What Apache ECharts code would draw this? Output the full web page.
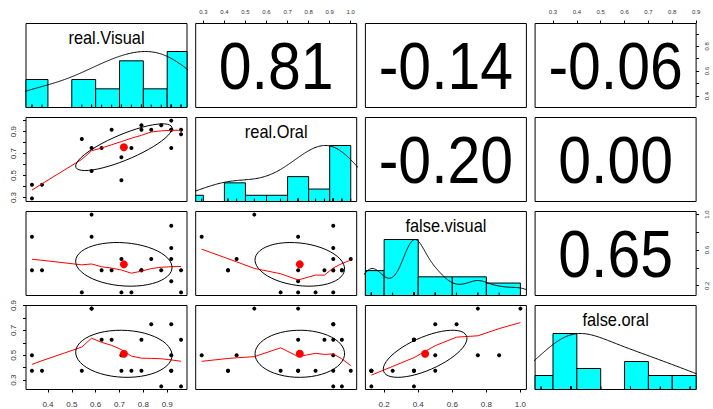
<!DOCTYPE html>
<html>
<head>
<meta charset="utf-8">
<script src="https://cdn.jsdelivr.net/npm/echarts@6/dist/echarts.min.js"></script>
<style>
  html, body { margin: 0; padding: 0; background: #fff; }
  #chart { width: 713px; height: 409px; }
</style>
</head>
<body>
<div id="chart"></div>
<script>
// Scores of 21 subjects on four recognition measures
const varNames = ['real.Visual', 'real.Oral', 'false.visual', 'false.oral'];
const realVisual  = [0.333, 0.333, 0.375, 0.542, 0.583, 0.583, 0.625, 0.667, 0.708, 0.708, 0.750, 0.792, 0.792, 0.833, 0.875, 0.917, 0.917, 0.917, 0.917, 0.958, 0.958];
const realOral    = [0.292, 0.417, 0.417, 0.833, 0.542, 0.750, 0.750, 0.917, 0.458, 0.667, 0.750, 0.958, 0.917, 0.917, 0.958, 0.917, 0.917, 1.000, 0.750, 0.875, 0.917];
const falseVisual = [0.750, 0.375, 0.375, 0.125, 1.000, 0.750, 0.375, 0.375, 0.500, 0.125, 0.125, 0.375, 0.375, 0.500, 0.375, 0.875, 0.625, 0.500, 0.250, 0.375, 0.125];
const falseOral   = [0.500, 0.375, 0.375, 0.375, 0.875, 0.875, 0.625, 0.625, 0.500, 0.375, 0.375, 0.625, 0.375, 0.750, 0.250, 0.500, 0.750, 0.375, 0.375, 0.625, 0.250];

// Pearson correlations for the upper panels, row by row
const corrLabels = ['0.81', '-0.14', '-0.06', '-0.20', '0.00', '0.65'];

// Histogram break points for each variable
const histBreaks = [
  [0.3, 0.4, 0.5, 0.6, 0.7, 0.8, 0.9, 1.0],
  [0.2, 0.3, 0.4, 0.5, 0.6, 0.7, 0.8, 0.9, 1.0],
  [0.0, 0.2, 0.4, 0.6, 0.8, 1.0],
  [0.2, 0.3, 0.4, 0.5, 0.6, 0.7, 0.8, 0.9]
];

// Axis ticks per variable, and the thinned label sets used on the vertical axes
const tickValues = [
  [0.4, 0.5, 0.6, 0.7, 0.8, 0.9],
  [0.3, 0.4, 0.5, 0.6, 0.7, 0.8, 0.9, 1.0],
  [0.2, 0.4, 0.6, 0.8, 1.0],
  [0.3, 0.4, 0.5, 0.6, 0.7, 0.8, 0.9]
];
const sideLabelValues = [
  [0.4, 0.6, 0.8],
  [0.3, 0.5, 0.7, 0.9],
  [0.2, 0.6, 1.0],
  [0.3, 0.5, 0.7, 0.9]
];

const FONT = "'Liberation Sans', Arial, Helvetica, sans-serif";
const vars = [realVisual, realOral, falseVisual, falseOral];

// ---------- statistics ----------
function mean(v) { return v.reduce((a, b) => a + b, 0) / v.length; }
function sd(v) { const m = mean(v); return Math.sqrt(v.reduce((a, b) => a + (b - m) * (b - m), 0) / (v.length - 1)); }
function cor(a, b) {
  const ma = mean(a), mb = mean(b);
  let sab = 0, saa = 0, sbb = 0;
  for (let i = 0; i < a.length; i++) { sab += (a[i] - ma) * (b[i] - mb); saa += (a[i] - ma) ** 2; sbb += (b[i] - mb) ** 2; }
  return sab / Math.sqrt(saa * sbb);
}
function extent(v) {
  const mn = Math.min(...v), mx = Math.max(...v), pad = 0.04 * (mx - mn);
  return [mn - pad, mx + pad];
}
function quantile7(sorted, p) {
  const h = (sorted.length - 1) * p, lo = Math.floor(h);
  const hi = Math.min(lo + 1, sorted.length - 1);
  return sorted[lo] + (h - lo) * (sorted[hi] - sorted[lo]);
}
// Gaussian kernel density, bandwidth "nrd" with adjust = 1.2, scaled to a peak of 1
function density(v) {
  const s = [...v].sort((a, b) => a - b);
  const iqr = (quantile7(s, 0.75) - quantile7(s, 0.25)) / 1.34;
  const bw = 1.2 * 1.06 * Math.min(sd(v), iqr) * Math.pow(v.length, -0.2);
  const from = s[0] - 3 * bw, to = s[s.length - 1] + 3 * bw;
  const pts = [];
  let peak = 0;
  for (let k = 0; k < 512; k++) {
    const x = from + (to - from) * k / 511;
    let d = 0;
    for (const xi of v) d += Math.exp(-0.5 * ((x - xi) / bw) ** 2);
    pts.push([x, d]);
    if (d > peak) peak = d;
  }
  return pts.map(p => [p[0], p[1] / peak]);
}
function histogram(v, breaks) {
  const counts = new Array(breaks.length - 1).fill(0);
  for (const x of v) {
    for (let b = 0; b < breaks.length - 1; b++) {
      const lo = breaks[b], hi = breaks[b + 1];
      if ((x > lo + 1e-9 || (b === 0 && x >= lo - 1e-9)) && x <= hi + 1e-9) { counts[b]++; break; }
    }
  }
  const mx = Math.max(...counts);
  return counts.map((c, b) => [breaks[b], breaks[b + 1], c / mx]);
}
// Locally weighted scatterplot smoother (Cleveland's LOWESS, f = 2/3, 3 robustness steps)
function lowess(xIn, yIn, f = 2 / 3, nsteps = 3) {
  const n = xIn.length;
  const ord = xIn.map((_, i) => i).sort((a, b) => xIn[a] - xIn[b]);
  const X = [0], Y = [0];
  ord.forEach(i => { X.push(xIn[i]); Y.push(yIn[i]); });
  const YS = new Array(n + 1).fill(0), RW = new Array(n + 1).fill(0), RES = new Array(n + 1).fill(0), W = new Array(n + 1).fill(0);
  const delta = 0.01 * (X[n] - X[1]);
  const ns = Math.max(2, Math.min(n, Math.floor(f * n + 1e-7)));
  function lowest(xs, nleft, nright, userw) {
    const range = X[n] - X[1];
    const h = Math.max(xs - X[nleft], X[nright] - xs);
    const h9 = 0.999 * h, h1 = 0.001 * h;
    let a = 0, j = nleft;
    while (j <= n) {
      W[j] = 0;
      const r = Math.abs(X[j] - xs);
      if (r <= h9) {
        W[j] = r <= h1 ? 1 : Math.pow(1 - Math.pow(r / h, 3), 3);
        if (userw) W[j] *= RW[j];
        a += W[j];
      } else if (X[j] > xs) break;
      j++;
    }
    const nrt = j - 1;
    if (a <= 0) return null;
    for (j = nleft; j <= nrt; j++) W[j] /= a;
    if (h > 0) {
      a = 0;
      for (j = nleft; j <= nrt; j++) a += W[j] * X[j];
      let b = xs - a, c = 0;
      for (j = nleft; j <= nrt; j++) c += W[j] * (X[j] - a) * (X[j] - a);
      if (Math.sqrt(c) > 0.001 * range) {
        b /= c;
        for (j = nleft; j <= nrt; j++) W[j] *= (b * (X[j] - a) + 1);
      }
    }
    let ys = 0;
    for (j = nleft; j <= nrt; j++) ys += W[j] * Y[j];
    return ys;
  }
  let iter = 1;
  while (iter <= nsteps + 1) {
    let nleft = 1, nright = ns, last = 0, i = 1;
    for (;;) {
      if (nright < n) {
        const d1 = X[i] - X[nleft], d2 = X[nright + 1] - X[i];
        if (d1 > d2) { nleft++; nright++; continue; }
      }
      const fit = lowest(X[i], nleft, nright, iter > 1);
      YS[i] = fit === null ? Y[i] : fit;
      if (last < i - 1) {
        const denom = X[i] - X[last];
        for (let j = last + 1; j < i; j++) {
          const alpha = (X[j] - X[last]) / denom;
          YS[j] = alpha * YS[i] + (1 - alpha) * YS[last];
        }
      }
      last = i;
      const cut = X[last] + delta;
      for (i = last + 1; i <= n; i++) {
        if (X[i] > cut) break;
        if (X[i] === X[last]) { YS[i] = YS[last]; last = i; }
      }
      i = Math.max(last + 1, i - 1);
      if (last >= n) break;
    }
    for (let k = 1; k <= n; k++) RES[k] = Y[k] - YS[k];
    let sc = 0;
    for (let k = 1; k <= n; k++) sc += Math.abs(RES[k]);
    sc /= n;
    if (iter > nsteps) break;
    const absr = RES.slice(1).map(Math.abs).sort((a, b) => a - b);
    const m1 = Math.floor(n / 2);
    const cmad = n % 2 === 0 ? 3 * (absr[m1] + absr[n - m1 - 1]) : 6 * absr[m1];
    if (cmad < 1e-7 * sc) break;
    const c9 = 0.999 * cmad, c1 = 0.001 * cmad;
    for (let k = 1; k <= n; k++) {
      const r = Math.abs(RES[k]);
      RW[k] = r <= c1 ? 1 : (r <= c9 ? (1 - (r / cmad) ** 2) ** 2 : 0);
    }
    iter++;
  }
  const out = [];
  for (let k = 1; k <= n; k++) out.push([X[k], YS[k]]);
  return out;
}
// One-standard-deviation correlation ellipse around the means
function corEllipse(x, y) {
  const xm = mean(x), ym = mean(y), xs = sd(x), ys = sd(y), r = cor(x, y);
  const theta = r !== 0 ? Math.sign(r) / Math.SQRT2 : 1 / Math.SQRT2;
  const s1 = Math.sqrt(1 + r), s2 = Math.sqrt(1 - r);
  const pts = [];
  const segments = 51;
  for (let k = 0; k <= segments; k++) {
    const a = k * 2 * Math.PI / segments;
    const ca = Math.cos(a), sa = Math.sin(a);
    const ex = ca * s1 * theta + sa * (-s2 * theta);
    const ey = ca * s1 * theta + sa * (s2 * theta);
    pts.push([ex * xs + xm, ey * ys + ym]);
  }
  return pts;
}

// ---------- layout ----------
const PANEL_LEFT = 26, PANEL_STEP_X = 169.7, PANEL_W = 161;
const PANEL_TOP = 23.5, PANEL_STEP_Y = 94, PANEL_H = 84;

function axisOn(ax, position, ticks, labels, fontSize, margin, rotate) {
  return Object.assign(ax, {
    show: true,
    position: position,
    axisLine: { show: false },
    splitLine: { show: false },
    axisTick: { show: true, inside: false, length: 3, customValues: ticks, lineStyle: { color: '#000', width: 1 } },
    axisLabel: {
      show: true, customValues: labels, formatter: v => Number(v).toFixed(1),
      fontSize: fontSize, margin: margin, rotate: rotate, color: '#333', fontFamily: FONT
    }
  });
}

// Centered panel text (variable names, correlations), slightly condensed horizontally
function panelText(g, pos, text, fontSize, scaleX) {
  return {
    type: 'custom', xAxisIndex: g, yAxisIndex: g, silent: true, animation: false,
    data: [pos], encode: { x: 0, y: 1 },
    renderItem: (params, api) => {
      const p = api.coord([api.value(0), api.value(1)]);
      return {
        type: 'text', x: p[0], y: p[1], scaleX: scaleX,
        style: { text: text, fontSize: fontSize, fontFamily: FONT, fill: '#000', align: 'center', verticalAlign: 'middle' }
      };
    }
  };
}

const grids = [], xAxes = [], yAxes = [], series = [];
let corrIdx = 0;
const corrText = {};
for (let r = 0; r < 4; r++) for (let c = r + 1; c < 4; c++) corrText[r + '_' + c] = corrLabels[corrIdx++];

for (let r = 0; r < 4; r++) {
  for (let c = 0; c < 4; c++) {
    const g = r * 4 + c;
    grids.push({
      left: PANEL_LEFT + c * PANEL_STEP_X, top: PANEL_TOP + r * PANEL_STEP_Y,
      width: PANEL_W, height: PANEL_H,
      show: true, borderColor: '#000', borderWidth: 1, backgroundColor: 'transparent',
      containLabel: false, outerBoundsMode: 'none'
    });
    const xr = extent(vars[c]);
    const yr = r === c ? [0, 1.5] : extent(vars[r]);
    let xAx = { type: 'value', gridIndex: g, min: xr[0], max: xr[1], show: false, splitLine: { show: false } };
    let yAx = { type: 'value', gridIndex: g, min: yr[0], max: yr[1], show: false, splitLine: { show: false } };
    if (r === 3 && (c === 0 || c === 2)) xAx = axisOn(xAx, 'bottom', tickValues[c], tickValues[c], 8, 11, 0);
    if (r === 0 && (c === 1 || c === 3)) xAx = axisOn(xAx, 'top', tickValues[c], tickValues[c], 6, 9, 0);
    if (c === 0 && (r === 1 || r === 3)) yAx = axisOn(yAx, 'left', tickValues[r], sideLabelValues[r], 8, 9, 90);
    if (c === 3 && (r === 0 || r === 2)) yAx = axisOn(yAx, 'right', tickValues[r], sideLabelValues[r], 6, 8, 90);
    xAxes.push(xAx);
    yAxes.push(yAx);

    const base = { xAxisIndex: g, yAxisIndex: g, silent: true, animation: false };
    if (r === c) {
      const v = vars[c];
      series.push(Object.assign({}, base, {
        type: 'custom',
        data: histogram(v, histBreaks[c]),
        encode: { x: [0, 1], y: 2 },
        renderItem: (params, api) => {
          const p0 = api.coord([api.value(0), api.value(2)]);
          const p1 = api.coord([api.value(1), 0]);
          const cs = params.coordSys;
          const shape = echarts.graphic.clipRectByRect(
            { x: p0[0], y: p0[1], width: p1[0] - p0[0], height: p1[1] - p0[1] },
            { x: cs.x, y: cs.y, width: cs.width, height: cs.height });
          if (!shape) return;
          return { type: 'rect', shape: shape, style: { fill: '#00FFFF', stroke: '#000', lineWidth: 1 } };
        }
      }));
      series.push(Object.assign({}, base, {
        type: 'line', data: density(v), symbol: 'none', showSymbol: false, clip: true,
        lineStyle: { color: '#000', width: 1 }
      }));
      series.push(Object.assign({}, base, {
        type: 'custom',
        data: v.map(x => [x]),
        encode: { x: 0 },
        renderItem: (params, api) => {
          const p = api.coord([api.value(0), 0]);
          return { type: 'line', shape: { x1: p[0], y1: p[1], x2: p[0], y2: p[1] - 3 }, style: { stroke: '#000', lineWidth: 1 } };
        }
      }));
      series.push(panelText(g, [(xr[0] + xr[1]) / 2, 1.25], varNames[c], 18, 0.91));
    } else if (r > c) {
      const x = vars[c], y = vars[r];
      series.push(Object.assign({}, base, {
        type: 'scatter', data: x.map((xi, i) => [xi, y[i]]), symbolSize: 4,
        itemStyle: { color: '#000', opacity: 1 }
      }));
      series.push(Object.assign({}, base, {
        type: 'line', data: lowess(x, y), symbol: 'none', showSymbol: false,
        lineStyle: { color: '#FF0000', width: 1 }
      }));
      series.push(Object.assign({}, base, {
        type: 'scatter', data: [[mean(x), mean(y)]], symbolSize: 8,
        itemStyle: { color: '#FF0000', opacity: 1 }
      }));
      series.push(Object.assign({}, base, {
        type: 'line', data: corEllipse(x, y), symbol: 'none', showSymbol: false,
        lineStyle: { color: '#000', width: 1 }
      }));
    } else {
      series.push(panelText(g, [(xr[0] + xr[1]) / 2, (yr[0] + yr[1]) / 2], corrText[r + '_' + c], 67, 0.88));
    }
  }
}

const chart = echarts.init(document.getElementById('chart'), null, { renderer: 'svg', width: 713, height: 409 });
chart.setOption({
  animation: false,
  backgroundColor: '#fff',
  textStyle: { fontFamily: FONT },
  grid: grids,
  xAxis: xAxes,
  yAxis: yAxes,
  series: series
});
</script>
</body>
</html>
